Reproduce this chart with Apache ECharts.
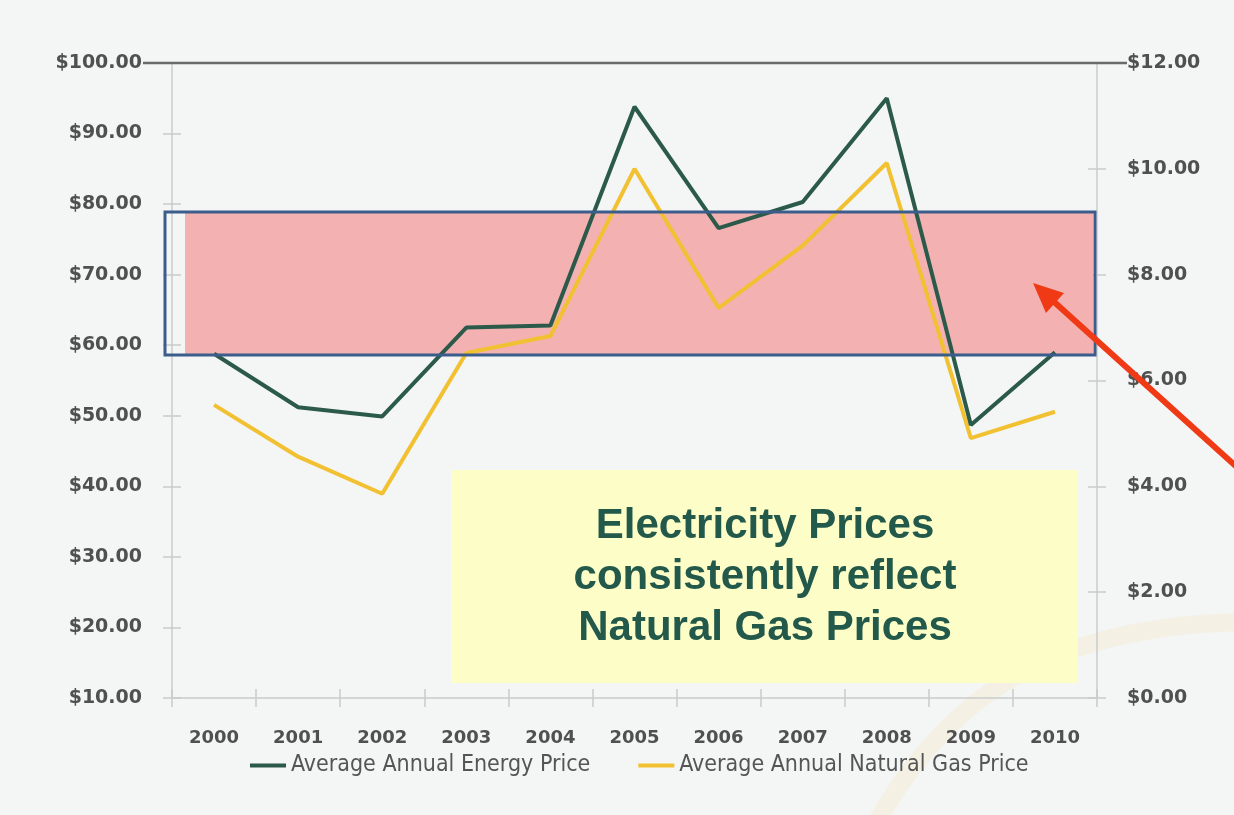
<!DOCTYPE html>
<html>
<head>
<meta charset="utf-8">
<title>Energy vs Natural Gas Prices</title>
<script src="https://cdn.jsdelivr.net/npm/echarts@6/dist/echarts.min.js"></script>
<style>
  html, body { margin: 0; padding: 0; background: #f4f5f5; }
  #chartArea { width: 1234px; height: 815px; }
</style>
</head>
<body>
<div id="chartArea"></div>
<script>
// x axis categories
var years = ['2000', '2001', '2002', '2003', '2004', '2005', '2006', '2007', '2008', '2009', '2010'];
// left axis: average annual energy price ($/MWh)
var energyPrice = [58.8, 51.2, 49.9, 62.5, 62.8, 93.8, 76.6, 80.3, 95.0, 48.7, 59.0];
// right axis: average annual natural gas price ($/MMBtu)
var gasPrice = [5.54, 4.56, 3.86, 6.52, 6.84, 10.0, 7.37, 8.55, 10.11, 4.91, 5.41];

var seriesNames = ['Average Annual Energy Price', 'Average Annual Natural Gas Price'];
var leftTicks = { min: 10, max: 100, interval: 10 };
var rightTicks = { min: 0, max: 12, interval: 2 };

var dom = document.getElementById('chartArea');
var myChart = echarts.init(dom);

var green = '#2c5a4a';
var yellow = '#f2c131';
var axisGray = '#c9cccc';
var labelFont = {
    color: '#505050',
    fontFamily: 'DejaVu Sans',
    fontWeight: 'bold',
    fontSize: 19
};

function money(v) {
    return '$' + v.toFixed(2);
}

// hidden duplicate axes only draw the inner half of the crossing ticks
function yAxisOp(ticks, position, showAll) {
    return {
        type: 'value',
        position: position,
        min: ticks.min,
        max: ticks.max,
        interval: ticks.interval,
        splitLine: { show: false },
        axisLine: { show: showAll, lineStyle: { color: axisGray, width: 1.5 } },
        axisTick: { show: true, inside: !showAll, length: 9, lineStyle: { color: axisGray, width: 1.5 } },
        axisLabel: showAll ? Object.assign({ margin: 30, formatter: money }, labelFont) : { show: false }
    };
}

function xAxisOp(showAll) {
    return {
        type: 'category',
        position: 'bottom',
        data: years,
        boundaryGap: true,
        axisLine: { show: showAll, lineStyle: { color: axisGray, width: 1.5 } },
        axisTick: { show: true, inside: !showAll, length: 9, lineStyle: { color: axisGray, width: 1.5 } },
        axisLabel: showAll ? Object.assign({ margin: 31, interval: 0 }, labelFont, { fontSize: 18 }) : { show: false }
    };
}

var option = {
    backgroundColor: '#f4f5f5',
    animation: false,
    grid: { left: 172, right: 137, top: 63, bottom: 117 },
    legend: {
        left: 245,
        top: 749,
        itemWidth: 36,
        itemHeight: 4,
        itemGap: 48,
        icon: 'rect',
        data: seriesNames,
        textStyle: {
            color: '#555',
            fontFamily: 'Liberation Sans Narrow, DejaVu Sans Condensed, sans-serif',
            fontSize: 23
        }
    },
    xAxis: [xAxisOp(true), xAxisOp(false)],
    yAxis: [
        yAxisOp(leftTicks, 'left', true),
        yAxisOp(rightTicks, 'right', true),
        yAxisOp(leftTicks, 'left', false),
        yAxisOp(rightTicks, 'right', false)
    ],
    series: [
        {
            name: seriesNames[0],
            type: 'line',
            yAxisIndex: 0,
            data: energyPrice,
            symbol: 'none',
            z: 5,
            itemStyle: { color: green },
            lineStyle: { color: green, width: 4 }
        },
        {
            name: seriesNames[1],
            type: 'line',
            yAxisIndex: 1,
            data: gasPrice,
            symbol: 'none',
            z: 4,
            itemStyle: { color: yellow },
            lineStyle: { color: yellow, width: 4 }
        }
    ],
    graphic: [
        // faint decorative swoosh at bottom right
        {
            type: 'bezierCurve',
            z: -10,
            silent: true,
            shape: { x1: 1245, y1: 622, cpx1: 1060, cpy1: 625, cpx2: 950, cpy2: 690, x2: 875, y2: 825 },
            style: { stroke: 'rgba(248, 222, 170, 0.22)', lineWidth: 18, fill: null }
        },
        // dark top line across the chart
        {
            type: 'line',
            z: 3,
            silent: true,
            shape: { x1: 143, y1: 63, x2: 1127, y2: 63 },
            style: { stroke: '#6a6a6a', lineWidth: 2.5 }
        },
        // highlighted band (fill under the lines)
        {
            type: 'rect',
            z: 1,
            silent: true,
            shape: { x: 185, y: 213, width: 908, height: 141 },
            style: { fill: '#f3b1b1' }
        },
        {
            type: 'rect',
            z: 20,
            silent: true,
            shape: { x: 165, y: 212, width: 930, height: 143 },
            style: { fill: null, stroke: '#3b5d8c', lineWidth: 3 }
        },
        // yellow note
        {
            type: 'rect',
            z: 6,
            silent: true,
            shape: { x: 451, y: 470, width: 627, height: 213 },
            style: { fill: '#fdfdc8' }
        },
        {
            type: 'text',
            z: 7,
            silent: true,
            x: 765,
            y: 577,
            style: {
                text: 'Electricity Prices\nconsistently reflect\nNatural Gas Prices',
                fill: '#22594a',
                font: 'bold 42px "Liberation Sans", Arial, sans-serif',
                lineHeight: 51,
                align: 'center',
                verticalAlign: 'middle'
            }
        },
        // red arrow pointing into the band
        {
            type: 'line',
            z: 30,
            silent: true,
            shape: { x1: 1250, y1: 479, x2: 1052, y2: 300 },
            style: { stroke: '#f03a16', lineWidth: 6 }
        },
        {
            type: 'polygon',
            z: 30,
            silent: true,
            shape: { points: [[1033, 283], [1046, 313], [1064, 293]] },
            style: { fill: '#f03a16' }
        }
    ]
};

myChart.setOption(option);
</script>
</body>
</html>
